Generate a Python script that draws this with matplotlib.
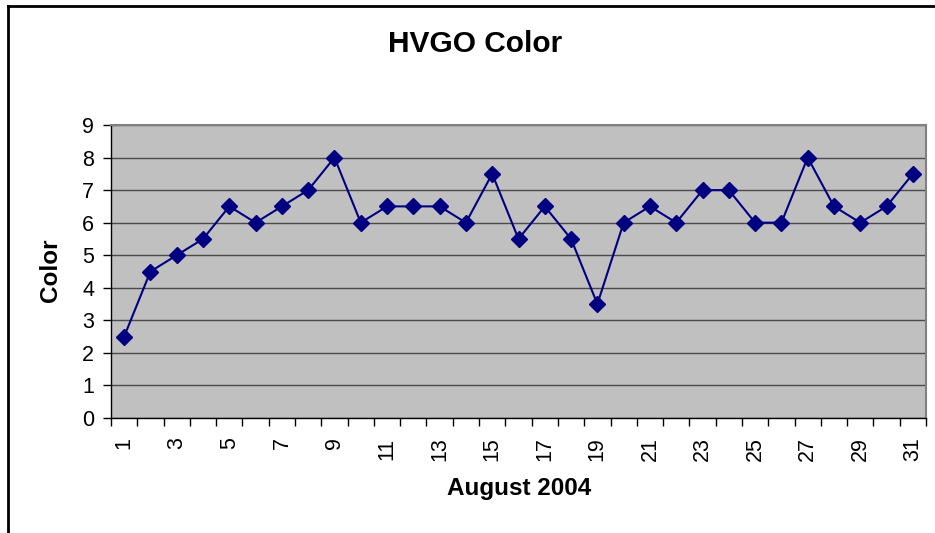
import numpy as np
import matplotlib.pyplot as plt
from matplotlib.lines import Line2D

plt.rcParams['font.family'] = ['Liberation Sans', 'DejaVu Sans']

# data: HVGO color readings, August 2004
days = list(range(1, 32))
color = [2.5, 4.5, 5, 5.5, 6.5, 6, 6.5, 7, 8, 6, 6.5, 6.5, 6.5, 6, 7.5, 5.5,
         6.5, 5.5, 3.5, 6, 6.5, 6, 7, 7, 6, 6, 8, 6.5, 6, 6.5, 7.5]
y_ticks = list(range(0, 10))

fig = plt.figure(figsize=(9.35, 5.33), dpi=100)
ax = fig.add_axes([111 / 935, 1 - 418 / 533, 815 / 935, 293 / 533])
ax.set_facecolor('#C0C0C0')

ax.plot(days, color, color='#000080', linewidth=1.5, marker='D', markersize=8,
        zorder=3)

ax.set_xlim(0.5, 31.5)
ax.set_ylim(0, 9)
ax.set_yticks(y_ticks)
ax.yaxis.grid(True, color='#4a4a4a', linewidth=1)
ax.set_axisbelow(True)

# tick marks between categories, labels on odd days
ax.set_xticks(np.arange(0.5, 32, 1))
ax.set_xticklabels([])
ax.set_xticks(days[::2], minor=True)
ax.set_xticklabels([str(d) for d in days[::2]], minor=True, rotation=90,
                   fontsize=15.5)
ax.tick_params(axis='x', which='major', direction='out', length=6, width=1)
ax.tick_params(axis='x', which='minor', length=0, pad=14)
ax.tick_params(axis='y', direction='out', length=6, width=1, labelsize=15.5, pad=6)

for side in ['top', 'right']:
    ax.spines[side].set_color('#808080')
    ax.spines[side].set_linewidth(1.5)
for side in ['left', 'bottom']:
    ax.spines[side].set_color('black')
    ax.spines[side].set_linewidth(1)

fig.text(519 / 935, 1 - 489 / 533, 'August 2004', fontsize=17.5, fontweight='bold',
         ha='center', va='center')
fig.text(50 / 935, 1 - 270 / 533, 'Color', fontsize=17.5, fontweight='bold',
         ha='center', va='center', rotation=90)
fig.text(475 / 935, 1 - 44 / 533, 'HVGO Color', fontsize=21.5, fontweight='bold',
         ha='center', va='center')

# chart frame (partially cropped in the original)
fig.add_artist(Line2D([8 / 935, 8 / 935], [0, 1 - 6 / 533], transform=fig.transFigure,
                      color='black', linewidth=2))
fig.add_artist(Line2D([8 / 935, 1], [1 - 6 / 533, 1 - 6 / 533], transform=fig.transFigure,
                      color='black', linewidth=2))

fig.savefig('out.png', dpi=100)
